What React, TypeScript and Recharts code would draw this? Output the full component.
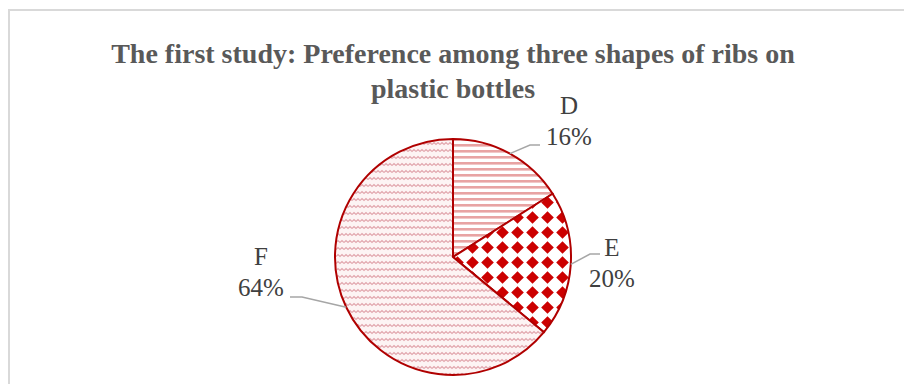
import React from 'react'
import { Cell, Pie, PieChart } from 'recharts'

// rib shapes and their share of preferences (%)
const categories = ['D', 'E', 'F']
const shares = [16, 20, 64]
const patterns = ['url(#ribStripes)', 'url(#ribDiamonds)', 'url(#ribWaves)']

const titleLines = ['The first study: Preference among three shapes of ribs on', 'plastic bottles']

const data = categories.map((name, i) => ({ name, value: shares[i] }))

const RADIAN = Math.PI / 180
const SERIF = '"Liberation Serif", "Times New Roman", serif'

// label placement relative to the pie centre (Excel put them by hand)
const labelPos: Record<string, { x: number; y: number; elbow: [number, number]; end: [number, number] }> = {
  D: { x: 116, y: -143, elbow: [77, -112], end: [87, -112] },
  E: { x: 159, y: -1, elbow: [137, -3], end: [147, -3] },
  F: { x: -192, y: 8, elbow: [-151, 40], end: [-163, 40] },
}

const renderLabel = (props: any) => {
  const { cx, cy, midAngle, outerRadius, name, value } = props
  const p = labelPos[name]
  if (!p) return null
  const sx = cx + outerRadius * Math.cos(-midAngle * RADIAN)
  const sy = cy + outerRadius * Math.sin(-midAngle * RADIAN)
  return (
    <g>
      <polyline
        points={`${sx},${sy} ${cx + p.elbow[0]},${cy + p.elbow[1]} ${cx + p.end[0]},${cy + p.end[1]}`}
        fill="none"
        stroke="#a6a6a6"
        strokeWidth={1.5}
      />
      <text x={cx + p.x} y={cy + p.y} textAnchor="middle" fill="#404040" fontSize={25} fontFamily={SERIF}>
        {name}
      </text>
      <text x={cx + p.x} y={cy + p.y + 31} textAnchor="middle" fill="#404040" fontSize={25} fontFamily={SERIF}>
        {value}%
      </text>
    </g>
  )
}

export default function App() {
  return (
    <div style={{ position: 'absolute', left: 0, top: 0, width: 904, height: 384, background: '#fff', overflow: 'hidden' }}>
      <div
        style={{
          position: 'absolute',
          left: 8,
          top: 9,
          width: 920,
          height: 400,
          borderTop: '2px solid #d9d9d9',
          borderLeft: '2px solid #d9d9d9',
        }}
      />
      <div
        style={{
          position: 'absolute',
          left: 0,
          top: 36,
          width: 906,
          textAlign: 'center',
          fontFamily: SERIF,
          fontWeight: 'bold',
          fontSize: 28,
          lineHeight: '35px',
          color: '#595959',
        }}
      >
        {titleLines.map((t) => (
          <div key={t}>{t}</div>
        ))}
      </div>
      <div style={{ position: 'absolute', left: 0, top: 0 }}>
        <PieChart width={904} height={384}>
          <defs>
            <pattern id="ribStripes" width={8} height={6} patternUnits="userSpaceOnUse">
              <rect width={8} height={6} fill="#fff" />
              <rect y={0} width={8} height={2.6} fill="#e8a3a3" />
            </pattern>
            <pattern id="ribDiamonds" width={15} height={15} patternUnits="userSpaceOnUse">
              <rect width={15} height={15} fill="#fff" />
              <path d="M7.5,1.2 L13.8,7.5 L7.5,13.8 L1.2,7.5 Z" fill="#cc0000" />
            </pattern>
            <pattern id="ribWaves" width={8} height={7} patternUnits="userSpaceOnUse">
              <rect width={8} height={7} fill="#fdf4f4" />
              <path d="M0,4.5 L2,2.5 L4,4.5 L6,2.5 L8,4.5" fill="none" stroke="#e2a6ad" strokeWidth={1.1} />
            </pattern>
          </defs>
          <Pie
            data={data}
            dataKey="value"
            nameKey="name"
            cx={448}
            cy={252}
            outerRadius={118}
            startAngle={90}
            endAngle={-270}
            stroke="#b00000"
            strokeWidth={2}
            label={renderLabel}
            labelLine={false}
            isAnimationActive={false}
          >
            {data.map((d, i) => (
              <Cell key={d.name} fill={patterns[i]} />
            ))}
          </Pie>
        </PieChart>
      </div>
    </div>
  )
}
